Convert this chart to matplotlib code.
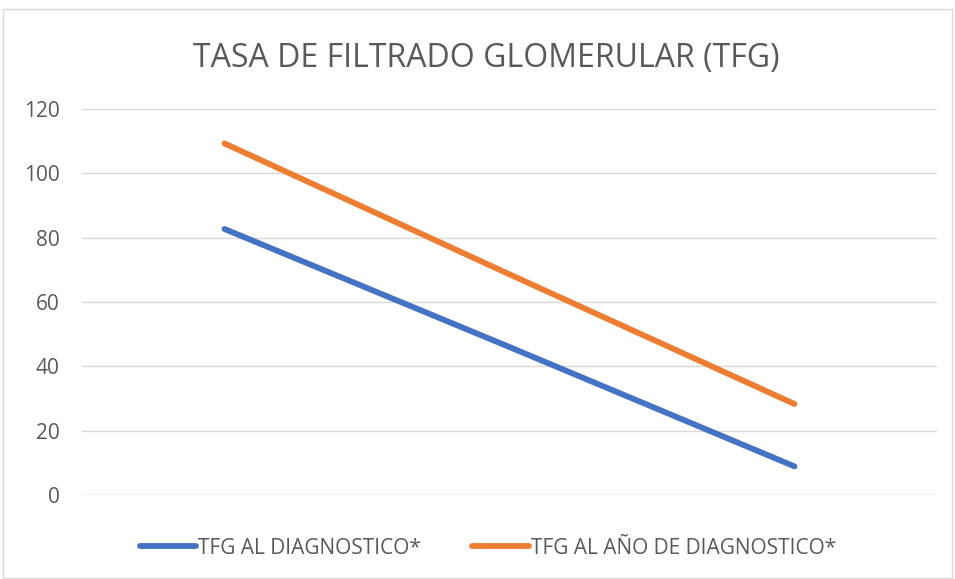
import matplotlib
matplotlib.use("Agg")
import matplotlib.pyplot as plt
from matplotlib.lines import Line2D
from matplotlib.patches import Rectangle

categories = ["1", "2", "3"]
tfg_diag = [82.7, 46.0, 8.9]
tfg_anio = [109.3, 68.6, 28.3]
series_names = ["TFG AL DIAGNOSTICO*", "TFG AL AÑO DE DIAGNOSTICO*"]
yticks = [0, 20, 40, 60, 80, 100, 120]
title = "TASA DE FILTRADO GLOMERULAR (TFG)"

FONT = ["Open Sans", "DejaVu Sans"]
plt.rcParams['font.family'] = FONT
TXT = "#595959"

fig = plt.figure(figsize=(9.55, 5.79), dpi=100)
fig.patch.set_facecolor("white")
fig.patches.append(Rectangle((3/955, 0.002), 949/955, 1 - 9/579 - 0.002, transform=fig.transFigure,
                             fill=False, edgecolor="#D9D9D9", linewidth=1))

ax = fig.add_axes([82/955, 1 - 495/579, (937 - 82)/955, (495 - 109)/579])
x = list(range(len(categories)))
ax.plot(x, tfg_diag, color="#4472C4", lw=4.2, solid_capstyle="round", label=series_names[0], zorder=3)
ax.plot(x, tfg_anio, color="#ED7D31", lw=4.2, solid_capstyle="round", label=series_names[1], zorder=3)

ax.set_xlim(-0.5, len(categories) - 0.5)
ax.set_ylim(0, 120)
ax.set_yticks(yticks)
ax.set_yticklabels([str(v) for v in yticks])
ax.set_xticks([])
ax.yaxis.grid(True, color="#D9D9D9", lw=1)
ax.set_axisbelow(True)
for s in ax.spines.values():
    s.set_visible(False)
ax.tick_params(axis="y", length=0, pad=16, labelsize=15, labelcolor=TXT)
ax.axhline(0, color="#D9D9D9", lw=1, zorder=1)

fig.text(486/955, 1 - 58/579, title, ha="center", va="center", fontsize=23, color=TXT)

handles = [Line2D([], [], color="#4472C4", lw=4.2, solid_capstyle="round"),
           Line2D([], [], color="#ED7D31", lw=4.2, solid_capstyle="round")]
fig.legend(handles, series_names, loc="center", bbox_to_anchor=(488/955, 1 - 548/579),
           ncol=2, frameon=False, fontsize=15, labelcolor=TXT, handlelength=2.7,
           handletextpad=0.1, columnspacing=2.45)

fig.savefig("out.png", dpi=100)
